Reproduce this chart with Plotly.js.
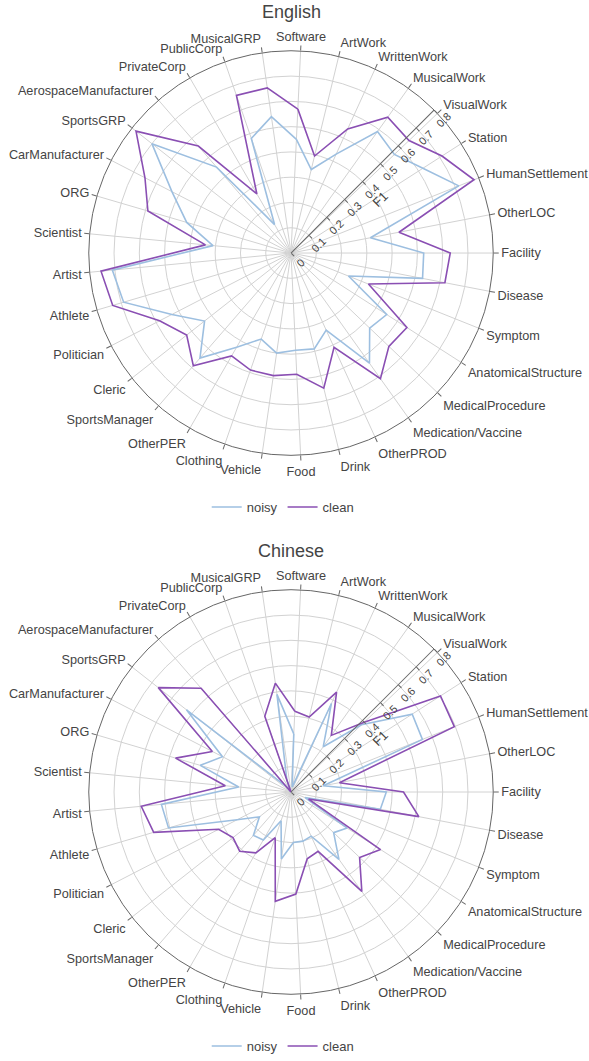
<!DOCTYPE html>
<html>
<head>
<meta charset="utf-8">
<script src="https://cdn.plot.ly/plotly-3.0.1.min.js"></script>
<style>html,body{margin:0;padding:0;background:#fff;}#chart{width:589px;height:1061px;}</style>
</head>
<body>
<div id="chart"></div>
<script>
const categories = ["Software","ArtWork","WrittenWork","MusicalWork","VisualWork","Station","HumanSettlement","OtherLOC","Facility","Disease","Symptom","AnatomicalStructure","MedicalProcedure","Medication/Vaccine","OtherPROD","Drink","Food","Vehicle","Clothing","OtherPER","SportsManager","Cleric","Politician","Athlete","Artist","Scientist","ORG","CarManufacturer","SportsGRP","AerospaceManufacturer","PrivateCorp","PublicCorp","MusicalGRP"];

const enNoisy = [0.45,0.34,0.43,0.59,0.565,0.62,0.715,0.32,0.525,0.53,0.245,0.45,0.43,0.535,0.335,0.39,0.385,0.40,0.36,0.43,0.55,0.435,0.53,0.69,0.71,0.31,0.43,0.53,0.70,0.45,0.13,0.48,0.545];
const enClean = [0.57,0.395,0.54,0.66,0.645,0.71,0.78,0.435,0.63,0.62,0.33,0.545,0.535,0.61,0.41,0.55,0.48,0.49,0.49,0.47,0.59,0.525,0.585,0.735,0.755,0.34,0.59,0.65,0.78,0.56,0.27,0.66,0.66];

const zhNoisy = [0.23,0.02,0.385,0.22,0.385,0.57,0.56,0.13,0.377,0.36,0.06,0.264,0.233,0.327,0.192,0.20,0.20,0.268,0.12,0.219,0.227,0.159,0.24,0.505,0.515,0.208,0.374,0.305,0.526,0.03,0.0,0.05,0.39];
const zhClean = [0.32,0.305,0.434,0.275,0.40,0.703,0.696,0.195,0.445,0.515,0.075,0.421,0.375,0.483,0.258,0.272,0.404,0.437,0.191,0.278,0.31,0.292,0.322,0.566,0.595,0.261,0.476,0.35,0.668,0.543,0.0,0.317,0.435];

const seriesNames = ["noisy","clean"];
const panelTitles = ["English","Chinese"];
const noisyColor = "#9dbfe0";
const cleanColor = "#8a4fb3";
const FONT = "Liberation Sans, Arial, sans-serif";

function closed(a){ return a.concat([a[0]]); }
function trace(r, name, color, subplot, legend){
  return {type:"scatterpolar", r: closed(r), theta: closed(categories), mode:"lines",
    name:name, line:{color:color, width:1.6}, subplot:subplot, legend:legend, hoverinfo:"r+theta"};
}

const data = [
  trace(enNoisy, seriesNames[0], noisyColor, "polar", "legend"),
  trace(enClean, seriesNames[1], cleanColor, "polar", "legend"),
  trace(zhNoisy, seriesNames[0], noisyColor, "polar2", "legend2"),
  trace(zhClean, seriesNames[1], cleanColor, "polar2", "legend2")
];

function polarCfg(ydom){
  return {
    domain:{x:[88/589, 494/589], y:ydom},
    bgcolor:"#ffffff",
    angularaxis:{rotation: 90 - 90/33, direction:"clockwise", ticks:"outside", ticklen:5,
      tickcolor:"#666", linecolor:"#666", gridcolor:"#d2d2d2", tickfont:{size:12.7, color:"#444", family:FONT}},
    radialaxis:{range:[0,0.8], angle:45, dtick:0.1, ticks:"outside", ticklen:4, tickcolor:"#666",
      linecolor:"#666", gridcolor:"#d2d2d2", tickfont:{size:11, color:"#444", family:FONT},
      title:{text:"F1", font:{size:13, color:"#444", family:FONT}}}
  };
}

const layout = {
  width:589, height:1061,
  margin:{l:0,r:0,t:0,b:0},
  paper_bgcolor:"#ffffff",
  font:{family:FONT, color:"#444", size:13},
  polar: polarCfg([1-457/1061, 1-51/1061]),
  polar2: polarCfg([1-998/1061, 1-592/1061]),
  legend:{orientation:"h", x:0.48, xanchor:"center", y:1-509/1061, yanchor:"middle", font:{size:13}},
  legend2:{orientation:"h", x:0.48, xanchor:"center", y:1-1050/1061, yanchor:"middle", font:{size:13}},
  showlegend:true,
  annotations:[
    {text:panelTitles[0], xref:"paper", yref:"paper", x:291/589, y:1-12/1061, xanchor:"center", yanchor:"middle", showarrow:false, font:{size:18, color:"#444"}},
    {text:panelTitles[1], xref:"paper", yref:"paper", x:291/589, y:1-553/1061, xanchor:"center", yanchor:"middle", showarrow:false, font:{size:18, color:"#444"}}
  ]
};

Plotly.newPlot("chart", data, layout, {displayModeBar:false, staticPlot:true});
</script>
</body>
</html>
